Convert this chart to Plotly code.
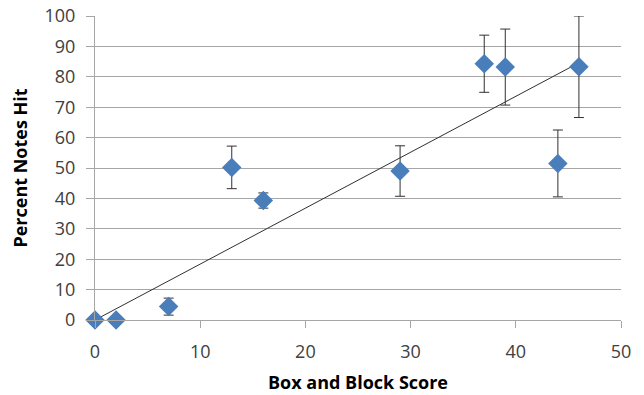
import numpy as np
import plotly.graph_objects as go

box_block_score = [0, 2, 7, 13, 16, 29, 37, 39, 44, 46]
percent_notes_hit = [0, 0, 4.4, 50.2, 39.3, 49.0, 84.3, 83.2, 51.5, 83.3]
error_sd = [0, 0, 2.8, 7.0, 2.5, 8.3, 9.4, 12.5, 11.0, 16.7]

x_ticks = [0, 10, 20, 30, 40, 50]
y_ticks = [0, 10, 20, 30, 40, 50, 60, 70, 80, 90, 100]

# Linear trendline through the origin (least squares)
xa = np.array(box_block_score, dtype=float)
ya = np.array(percent_notes_hit, dtype=float)
slope = float((xa * ya).sum() / (xa * xa).sum())
trend_x = [min(box_block_score), max(box_block_score)]
trend_y = [slope * v for v in trend_x]

fig = go.Figure()
fig.add_trace(go.Scatter(
    x=trend_x, y=trend_y, mode="lines",
    line=dict(color="#303030", width=1),
    showlegend=False, hoverinfo="skip", cliponaxis=False,
))
fig.add_trace(go.Scatter(
    x=box_block_score, y=percent_notes_hit, mode="markers",
    marker=dict(symbol="diamond", size=15, color="#4A7EBB"),
    error_y=dict(type="data", array=error_sd, visible=True,
                 color="#303030", thickness=1, width=5),
    showlegend=False, cliponaxis=False,
))

tick_font = dict(family="Open Sans, Liberation Sans, sans-serif", size=18, color="#404040")
title_font = dict(family="Open Sans, Liberation Sans, sans-serif", size=18, color="#000000")

fig.update_layout(
    width=644, height=395,
    margin=dict(l=95, r=23, t=16, b=75, autoexpand=False),
    paper_bgcolor="white", plot_bgcolor="white",
    xaxis=dict(
        range=[0, 50], tickvals=x_ticks, ticktext=[str(v) for v in x_ticks],
        showgrid=False, zeroline=False, automargin=False,
        showline=True, linecolor="#A6A6A6", linewidth=1,
        ticks="outside", ticklen=7, tickcolor="#A6A6A6",
        tickfont=tick_font, ticklabelstandoff=8,
        title=dict(text="<b>Box and Block Score</b>", font=title_font, standoff=14),
    ),
    yaxis=dict(
        range=[0, 100], tickvals=y_ticks, ticktext=[str(v) for v in y_ticks],
        showgrid=True, gridcolor="#A6A6A6", gridwidth=1, zeroline=False, automargin=False,
        showline=True, linecolor="#A6A6A6", linewidth=1,
        ticks="outside", ticklen=8, tickcolor="#A6A6A6",
        tickfont=tick_font, ticklabelstandoff=7,
        title=dict(text="<b>Percent Notes Hit</b>", font=title_font, standoff=12),
    ),
)

# remove the default 8px page margin so the figure fills the window exactly
fig.write_html("out.html", config={"displayModeBar": False},
               post_script="document.body.style.margin='0';")
